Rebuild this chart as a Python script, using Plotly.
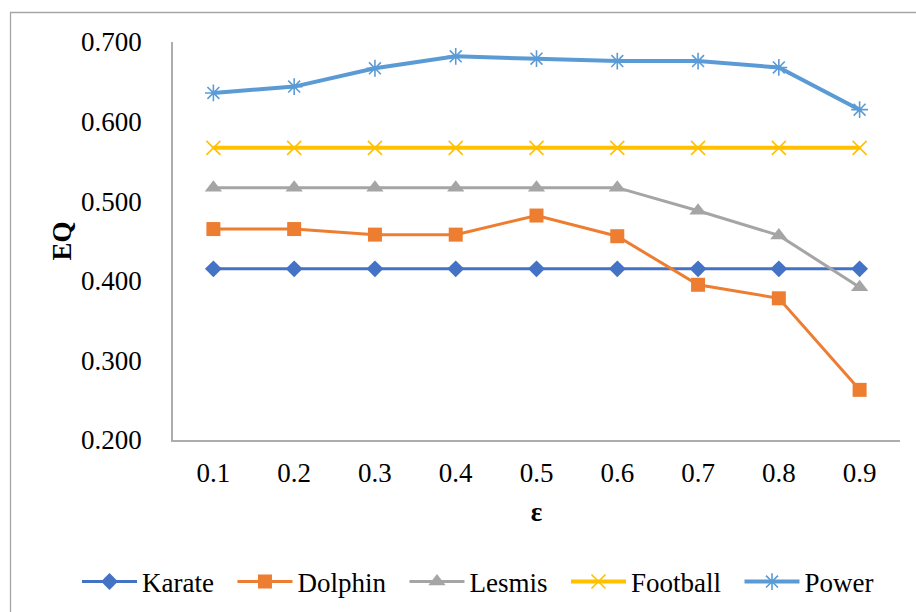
import plotly.graph_objects as go

# Epsilon values (category axis)
epsilon = ["0.1", "0.2", "0.3", "0.4", "0.5", "0.6", "0.7", "0.8", "0.9"]

# EQ per network
karate = [0.415, 0.415, 0.415, 0.415, 0.415, 0.415, 0.415, 0.415, 0.415]
dolphin = [0.465, 0.465, 0.458, 0.458, 0.482, 0.456, 0.395, 0.378, 0.263]
lesmis = [0.517, 0.517, 0.517, 0.517, 0.517, 0.517, 0.488, 0.457, 0.392]
football = [0.567, 0.567, 0.567, 0.567, 0.567, 0.567, 0.567, 0.567, 0.567]
power = [0.636, 0.644, 0.667, 0.682, 0.679, 0.676, 0.676, 0.668, 0.615]

y_ticks = [0.2, 0.3, 0.4, 0.5, 0.6, 0.7]
y_tick_text = ["0.200", "0.300", "0.400", "0.500", "0.600", "0.700"]

FONT = "Liberation Serif"
FS = 27
W, H = 916, 612
ML, MR, MT, MB = 173, 16, 42, 172

# legend entries get trailing no-break spaces so the items are spread out
PAD = "\u00a0\u00a0"

series = [
    ("Karate", karate, "#4472C4", 3, dict(symbol="diamond", size=13)),
    ("Dolphin", dolphin, "#ED7D31", 3, dict(symbol="square", size=14)),
    ("Lesmis", lesmis, "#A5A5A5", 3, dict(symbol="triangle-up", size=15)),
    ("Football", football, "#FFC000", 4, dict(symbol="x-thin-open", size=14, line=dict(width=1.6, color="#FFC000"))),
    ("Power", power, "#5B9BD5", 4, dict(symbol="asterisk-open", size=14, line=dict(width=1.6, color="#5B9BD5"))),
]

fig = go.Figure()
for name, vals, color, lw, mk in series:
    mk = dict(mk)
    mk["color"] = color
    fig.add_trace(go.Scatter(
        x=epsilon, y=vals, name=name + PAD, mode="lines+markers",
        line=dict(color=color, width=lw), marker=mk,
    ))

pw = W - ML - MR
ph = H - MT - MB


def px_x(x):
    return (x - ML) / pw


def px_y(y):
    return (H - MB - y) / ph


# outer chart-area border
fig.add_shape(type="rect", xref="paper", yref="paper",
              x0=px_x(10.5), x1=px_x(940), y0=px_y(12.5), y1=px_y(640),
              line=dict(color="#A6A6A6", width=1.3), fillcolor="rgba(0,0,0,0)", layer="below")

txt = dict(family=FONT, size=FS, color="black")

fig.update_layout(
    width=W, height=H,
    margin=dict(l=ML, r=MR, t=MT, b=MB, autoexpand=False),
    paper_bgcolor="white", plot_bgcolor="white",
    font=txt,
    showlegend=True,
    legend=dict(orientation="h", x=px_x(77), xanchor="left", y=px_y(582), yanchor="middle",
                font=txt, itemwidth=55, bgcolor="rgba(0,0,0,0)"),
)
fig.update_xaxes(type="category", range=[-0.5, 8.5], showgrid=False, zeroline=False,
                 showline=True, linecolor="#ADADAD", linewidth=1.5,
                 ticks="", ticklabelstandoff=8, tickfont=txt,
                 title_text="<b>ε</b>", title_font=txt, title_standoff=15)
fig.update_yaxes(range=[0.2, 0.7], tickvals=y_ticks, ticktext=y_tick_text,
                 showgrid=False, zeroline=False,
                 showline=True, linecolor="#ADADAD", linewidth=1.5,
                 ticks="", ticklabelstandoff=24, tickfont=txt,
                 title_text="<b>EQ</b>", title_font=txt, title_standoff=2)

fig.write_html("out.html")
